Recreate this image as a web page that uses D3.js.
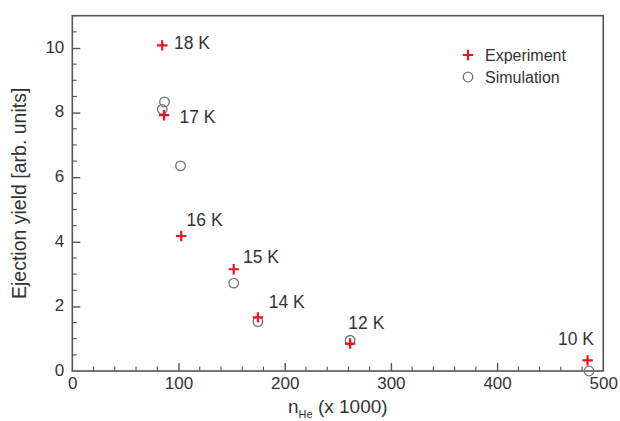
<!DOCTYPE html>
<html>
<head>
<meta charset="utf-8">
<script src="https://cdn.jsdelivr.net/npm/d3@7"></script>
<style>
  html, body { margin: 0; padding: 0; background: #fff; }
  svg { display: block; font-family: "Liberation Sans", Arial, sans-serif; }
</style>
</head>
<body>
<svg id="chart" width="620" height="421"></svg>
<script>
// ---- data ----
const expX = [84.7, 86.4, 102.6, 152, 174.8, 261.6, 485.2];
const expY = [10.08, 7.92, 4.18, 3.15, 1.66, 0.85, 0.33];
const simX = [86.8, 84.7, 101.9, 152, 174.8, 261.6, 486.5];
const simY = [8.33, 8.10, 6.35, 2.72, 1.53, 0.95, 0.0];
const tempLabels = ["18 K", "17 K", "16 K", "15 K", "14 K", "12 K", "10 K"];
const labelX = [95.8, 100.9, 107.6, 160.7, 184.9, 259.9, 457.3];
const labelY = [10.16, 7.86, 4.67, 3.53, 2.16, 1.50, 1.00];
const xTicks = [0, 100, 200, 300, 400, 500];
const yTicks = [0, 2, 4, 6, 8, 10];
const legendNames = ["Experiment", "Simulation"];

// ---- layout ----
const svg = d3.select("#chart");
const L = 72.3, R = 603.3, T = 15.7, B = 371;
const x = d3.scaleLinear().domain([0, 500]).range([L, R]);
const y = d3.scaleLinear().domain([0, 11]).range([B, T]);
const frameColor = "#555";
const textColor = "#333";
const red = "#e8161e";
const gray = "#777";

// frame
svg.append("rect").attr("x", L).attr("y", T).attr("width", R - L).attr("height", B - T)
  .attr("fill", "none").attr("stroke", frameColor).attr("stroke-width", 1.6);

// x axis (ticks inward)
const xMinor = d3.range(0, 501, 20).filter(v => v % 100 !== 0);
const xAxis = d3.axisBottom(x).tickValues(xTicks).tickSize(-8).tickPadding(6).tickFormat(d3.format("d"));
const gx = svg.append("g").attr("transform", `translate(0,${B})`).call(xAxis);
gx.select(".domain").remove();
gx.selectAll(".tick line").attr("stroke", frameColor).attr("stroke-width", 1.4);
gx.selectAll(".tick text").attr("fill", textColor).attr("font-size", 17);
gx.selectAll(".tick").filter(d => d === 0 || d === 500).select("line").remove();
svg.append("g").selectAll("line").data(xMinor).join("line")
  .attr("x1", d => x(d)).attr("x2", d => x(d)).attr("y1", B).attr("y2", B - 4.5)
  .attr("stroke", frameColor).attr("stroke-width", 1.1);

// y axis (ticks inward)
const yMinor = d3.range(0, 11.01, 0.5).filter(v => v % 2 !== 0);
const yAxis = d3.axisLeft(y).tickValues(yTicks).tickSize(-8).tickPadding(8).tickFormat(d3.format("d"));
const gy = svg.append("g").attr("transform", `translate(${L},0)`).call(yAxis);
gy.select(".domain").remove();
gy.selectAll(".tick line").attr("stroke", frameColor).attr("stroke-width", 1.4);
gy.selectAll(".tick text").attr("fill", textColor).attr("font-size", 17).attr("dy", "0.25em");
gy.selectAll(".tick").filter(d => d === 0).select("line").remove();
svg.append("g").selectAll("line").data(yMinor).join("line")
  .attr("x1", L).attr("x2", L + 4.5).attr("y1", d => y(d)).attr("y2", d => y(d))
  .attr("stroke", frameColor).attr("stroke-width", 1.1);

// axis titles
const xt = svg.append("text").attr("x", (L + R) / 2).attr("y", 413).attr("text-anchor", "middle")
  .attr("font-size", 19).attr("fill", textColor);
xt.append("tspan").text("n");
xt.append("tspan").attr("font-size", 11).attr("dy", 5).text("He");
xt.append("tspan").attr("dy", -5).text(" (x 1000)");

svg.append("text").attr("transform", `translate(26,${(T + B) / 2}) rotate(-90)`)
  .attr("text-anchor", "middle").attr("font-size", 19.5).attr("fill", textColor)
  .text("Ejection yield [arb. units]");

// marker helpers
const plusSize = 5.2;
function plus(g, cx, cy) {
  g.append("path")
    .attr("d", `M${cx - plusSize},${cy}H${cx + plusSize}M${cx},${cy - plusSize}V${cy + plusSize}`)
    .attr("stroke", red).attr("stroke-width", 2.2).attr("fill", "none");
}

// simulation circles
svg.append("g").selectAll("circle").data(simX.map((v, i) => [v, simY[i]])).join("circle")
  .attr("cx", d => x(d[0])).attr("cy", d => y(d[1])).attr("r", 4.8)
  .attr("fill", "none").attr("stroke", gray).attr("stroke-width", 1.3);

// experiment pluses
const gp = svg.append("g");
expX.forEach((v, i) => plus(gp, x(v), y(expY[i])));

// temperature labels
svg.append("g").selectAll("text").data(tempLabels).join("text")
  .attr("x", (d, i) => x(labelX[i])).attr("y", (d, i) => y(labelY[i]))
  .attr("dy", "0.36em").attr("font-size", 17.5).attr("fill", textColor).text(d => d);

// legend
const lg = svg.append("g");
plus(lg, 468, 55);
lg.append("circle").attr("cx", 468).attr("cy", 77).attr("r", 4.8)
  .attr("fill", "none").attr("stroke", gray).attr("stroke-width", 1.3);
lg.selectAll("text").data(legendNames).join("text")
  .attr("x", 485).attr("y", (d, i) => 55 + i * 22).attr("dy", "0.36em")
  .attr("font-size", 16).attr("fill", textColor).text(d => d);
</script>
</body>
</html>
